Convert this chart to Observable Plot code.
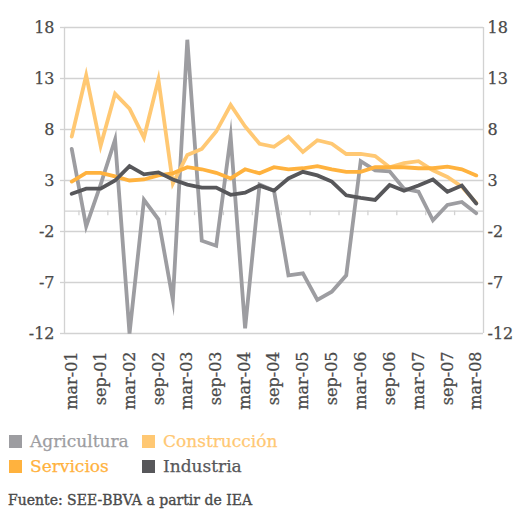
<!DOCTYPE html>
<html>
<head>
<meta charset="utf-8">
<script src="https://cdn.jsdelivr.net/npm/d3@7"></script>
<script src="https://cdn.jsdelivr.net/npm/@observablehq/plot@0.6"></script>
<style>
  html, body { margin: 0; padding: 0; background: #fff; }
  body { width: 521px; height: 509px; overflow: hidden; font-family: "DejaVu Serif", "Liberation Serif", serif; }
  #legend { margin-top: 4px; font-size: 17px; }
  .row { height: 25px; line-height: 25px; white-space: nowrap; }
  .item { display: inline-block; vertical-align: top; }
  .item.c1 { width: 133px; padding-left: 9px; }
  .sw { display: inline-block; width: 13px; height: 13px; margin-right: 8px; vertical-align: -1px; }
  .lt { -webkit-text-stroke: 0.25px currentColor; }
  #caption { margin-top: 12px; padding-left: 8px; font-size: 14px; line-height: 18px; color: #4a4a4a; -webkit-text-stroke: 0.35px #4a4a4a; }
  svg text { stroke: currentColor; stroke-width: 0.25px; }
</style>
</head>
<body>
<div id="chart"></div>
<div id="legend"></div>
<div id="caption">Fuente: SEE-BBVA a partir de IEA</div>
<script>
const months = ["mar", "jun", "sep", "dic"];
const quarters = [];
for (let y = 1; y <= 8; y++) for (const m of months) quarters.push(m + "-0" + y);
const labels = quarters.slice(0, 29); // mar-01 ... mar-08

const agricultura = [6.1, -1.5, 2.6, 7.0, -12.0, 1.1, -0.8, -8.7, 16.8, -2.9, -3.4, 7.3, -11.5, 2.6, 2.0,
  -6.3, -6.1, -8.7, -7.9, -6.3, 4.9, 4.0, 3.9, 2.2, 1.9, -0.9, 0.6, 0.9, -0.2];
const construccion = [7.3, 13.3, 6.4, 11.5, 10.05, 7.2, 12.9, 2.7, 5.5, 6.1, 7.8, 10.4, 8.3, 6.6, 6.3,
  7.3, 5.8, 6.95, 6.6, 5.6, 5.6, 5.4, 4.3, 4.7, 4.9, 4.0, 3.35, 2.4, 0.8];
const servicios = [2.9, 3.75, 3.75, 3.4, 3.0, 3.1, 3.5, 3.7, 4.3, 4.1, 3.75, 3.2, 4.1, 3.7, 4.3,
  4.1, 4.2, 4.4, 4.1, 3.85, 3.85, 4.3, 4.3, 4.3, 4.2, 4.2, 4.35, 4.1, 3.5];
const industria = [1.7, 2.2, 2.2, 3.0, 4.4, 3.6, 3.8, 3.1, 2.6, 2.3, 2.3, 1.6, 1.8, 2.5, 2.0,
  3.2, 3.85, 3.5, 2.9, 1.55, 1.3, 1.1, 2.55, 2.0, 2.5, 3.1, 1.9, 2.5, 0.75];

const yTicks = [-12, -7, -2, 3, 8, 13, 18];
const xTickIdx = labels.map((d, i) => i).filter(i => i % 2 === 0);
const boundaries = labels.map((d, i) => i + 0.5).filter((d, i) => i % 2 === 0 && i < 28);

const series = [
  {name: "Agricultura", values: agricultura, color: "#9d9da1"},
  {name: "Construcción", values: construccion, color: "#ffc873"},
  {name: "Servicios", values: servicios, color: "#ffb23e"},
  {name: "Industria", values: industria, color: "#57575a"}
];

const grid = "#d2d2d2";
const textColor = "#4a4a4a";
const fam = "DejaVu Serif, Liberation Serif, serif";

const chart = Plot.plot({
  width: 521,
  height: 425,
  marginLeft: 64,
  marginRight: 38,
  marginTop: 27,
  marginBottom: 92,
  style: {fontFamily: fam, fontSize: "16px", color: textColor, background: "#fff"},
  x: {type: "linear", domain: [-0.5, labels.length - 0.5]},
  y: {domain: [-12, 18]},
  marks: [
    Plot.gridY(yTicks, {stroke: grid, strokeOpacity: 1, strokeWidth: 1.3}),
    Plot.ruleX([-0.5, labels.length - 0.5], {stroke: grid, strokeWidth: 1.3}),
    Plot.ruleY([0], {stroke: grid, strokeWidth: 1.3}),
    Plot.ruleX(boundaries, {x: d => d, y1: 0, y2: -0.45, stroke: grid, strokeWidth: 1.3}),
    ...series.map(s => Plot.line(s.values, {
      x: (d, i) => i, y: d => d, stroke: s.color, strokeWidth: 3.8, strokeLinejoin: "miter", strokeMiterlimit: 10
    })),
    Plot.axisY(yTicks, {anchor: "left", tickSize: 4, tickPadding: 6, stroke: grid, strokeWidth: 1.3, fill: textColor,
      fontSize: 16, fontFamily: fam, tickFormat: d => String(d), label: null}),
    Plot.axisY(yTicks, {anchor: "right", tickSize: 0, tickPadding: 4, fill: textColor,
      fontSize: 16, fontFamily: fam, tickFormat: d => String(d), label: null}),
    Plot.axisX(xTickIdx, {anchor: "bottom", tickSize: 0, tickPadding: 18, tickRotate: -90,
      tickFormat: i => labels[i], fill: textColor, fontSize: 16, fontFamily: fam, label: null})
  ]
});
document.getElementById("chart").appendChild(chart);

const legend = document.getElementById("legend");
for (let r = 0; r < 2; r++) {
  const row = document.createElement("div");
  row.className = "row";
  for (let c = 0; c < 2; c++) {
    const s = series[r * 2 + c];
    const item = document.createElement("span");
    item.className = "item" + (c === 0 ? " c1" : "");
    item.innerHTML = `<span class="sw" style="background:${s.color}"></span><span class="lt" style="color:${s.color}">${s.name}</span>`;
    row.appendChild(item);
  }
  legend.appendChild(row);
}
</script>
</body>
</html>
